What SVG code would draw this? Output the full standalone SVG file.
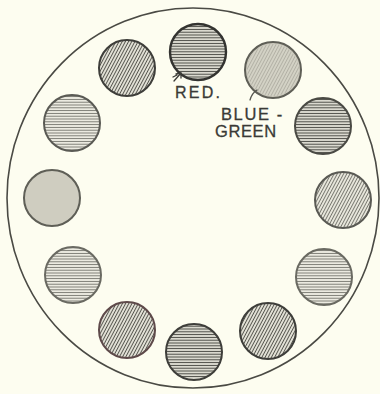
<svg xmlns="http://www.w3.org/2000/svg" width="380" height="394" viewBox="0 0 380 394">
<style>
.disc{stroke:#4a4a44;stroke-width:2}
.lbl{font-family:"Liberation Sans",Arial,sans-serif;fill:#3a3a36;stroke:#3a3a36;stroke-width:0.3}
.ptr{fill:none;stroke:#3a3a36;stroke-width:1.3;stroke-linecap:round}
</style>
<defs>
<pattern id="hz" width="6" height="2.8" patternUnits="userSpaceOnUse">
<rect width="6" height="2.8" fill="#e8e7dc"/>
<line x1="0" y1="1.4" x2="6" y2="1.4" stroke="#4a4a44" stroke-width="1.1"/>
</pattern>
<pattern id="hzl" width="6" height="2.8" patternUnits="userSpaceOnUse">
<rect width="6" height="2.8" fill="#f0efe4"/>
<line x1="0" y1="1.4" x2="6" y2="1.4" stroke="#7a7a72" stroke-width="1"/>
</pattern>
<pattern id="dg" width="6" height="2.8" patternUnits="userSpaceOnUse" patternTransform="rotate(-62)">
<rect width="6" height="2.8" fill="#e6e5da"/>
<line x1="0" y1="1.4" x2="6" y2="1.4" stroke="#55554e" stroke-width="1"/>
</pattern>
<pattern id="dgl" width="6" height="2.8" patternUnits="userSpaceOnUse" patternTransform="rotate(-62)">
<rect width="6" height="2.8" fill="#eceadf"/>
<line x1="0" y1="1.4" x2="6" y2="1.4" stroke="#77776f" stroke-width="1"/>
</pattern>
<filter id="blur" x="-20%" y="-20%" width="140%" height="140%">
<feGaussianBlur stdDeviation="0.5"/>
</filter>
</defs>
<rect width="380" height="394" fill="#fdfdf0"/>
<g id="outer">
<ellipse cx="193" cy="198" rx="186" ry="190" fill="none" stroke="#4a4a44" stroke-width="1.6"/>
</g>
<g id="disc-red">
<circle cx="198" cy="52" r="28" fill="url(#hz)" class="disc" style="stroke:#333330;stroke-width:2.4"/>
</g>
<g id="disc-bluegreen" filter="url(#blur)">
<circle cx="273" cy="70" r="28" fill="#cbc9bc" class="disc" style="stroke:#5e5e57"/>
<circle cx="273" cy="70" r="26" fill="url(#dgl)" opacity="0.3"/>
</g>
<g id="disc-3">
<circle cx="323" cy="126" r="28" fill="url(#hz)" class="disc"/>
</g>
<g id="disc-4">
<circle cx="343" cy="200" r="28" fill="url(#dgl)" class="disc" style="stroke:#5a5a54"/>
</g>
<g id="disc-5">
<circle cx="324" cy="277" r="28" fill="url(#hzl)" class="disc" style="stroke:#6a6a62"/>
</g>
<g id="disc-6">
<circle cx="268" cy="331" r="28" fill="url(#dg)" class="disc" style="stroke:#3e3e3a"/>
</g>
<g id="disc-7">
<circle cx="194" cy="352" r="28" fill="url(#hz)" class="disc" style="stroke:#3e3e3a"/>
</g>
<g id="disc-8">
<circle cx="127" cy="330" r="28" fill="url(#dg)" class="disc" style="stroke:#5e4a4a"/>
</g>
<g id="disc-9">
<circle cx="73" cy="275" r="28" fill="url(#hzl)" class="disc" style="stroke:#6a6a62"/>
</g>
<g id="disc-10" filter="url(#blur)">
<circle cx="52" cy="198" r="28" fill="#cfcdc0" class="disc" style="stroke:#5e5e57"/>
</g>
<g id="disc-11">
<circle cx="72" cy="123" r="28" fill="url(#hzl)" class="disc" style="stroke:#5a5a54"/>
</g>
<g id="disc-12">
<circle cx="127" cy="68" r="28" fill="url(#dg)" class="disc" style="stroke:#3e3e3a"/>
</g>
<g id="connectors">
<path class="ptr" d="M174 81 L181 73 M176 74 L181 73 L181 78 M173 77 L177 75"/>
<path class="ptr" d="M250 100 Q252 93 257 90" style="stroke:#55554e"/>
</g>
<g id="labels">
<text class="lbl" x="175" y="98" style="font-size:16px" letter-spacing="2.2">RED.</text>
<text class="lbl" x="221" y="120" style="font-size:16.5px" letter-spacing="1.6">BLUE -</text>
<text class="lbl" x="215" y="137" style="font-size:16.5px" letter-spacing="0.6">GREEN</text>
</g>
</svg>
